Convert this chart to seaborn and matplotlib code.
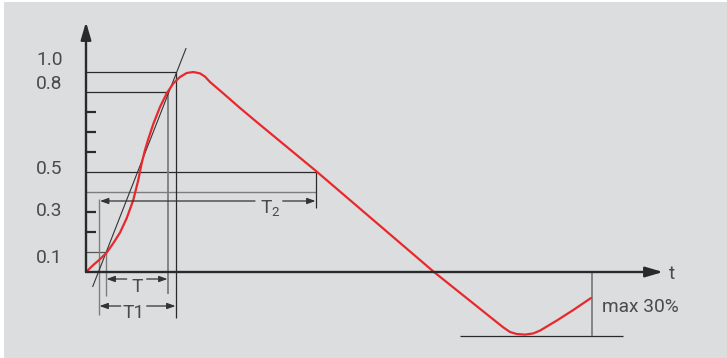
import numpy as np
import matplotlib
matplotlib.use("Agg")
import matplotlib.pyplot as plt
from matplotlib.patches import Rectangle
import seaborn as sns

# Impulse waveform (t in arbitrary units, v relative to peak)
t_wave = [0, 0.73, 1.4, 2.07, 2.73, 3.4, 4.07, 4.73, 5.23, 5.57, 5.9, 6.23, 6.73,
          7.4, 8.07, 8.73, 9.4, 10.07, 10.73, 11.4, 11.9, 12.4, 13.73, 15.4, 17.07,
          23.0, 34.8, 40.4, 41.73, 42.4, 43.07, 43.9, 44.73, 45.4, 47.07, 48.73, 50.5]
v_wave = [0, 0.035, 0.064, 0.097, 0.144, 0.197, 0.269, 0.36, 0.46, 0.544, 0.61, 0.665, 0.74,
          0.825, 0.893, 0.943, 0.975, 0.995, 1.0, 0.993, 0.977, 0.95, 0.893, 0.82, 0.75,
          0.505, 0.0, -0.224, -0.277, -0.30, -0.31, -0.313, -0.307, -0.293, -0.243, -0.19, -0.13]

# tangent through the 10% and 90% points
t_tangent = [0.67, 10.0]
v_tangent = [-0.073, 1.118]

# reference levels and times
v_peak, v_90, v_50, v_40, v_10 = 1.0, 0.9, 0.5, 0.4, 0.1
t_origin, t_10, t_90, t_1, t_2, t_end = 1.3, 2.0, 8.2, 9.0, 23.0, 50.6
v_under = -0.318
t_under = [37.4, 53.7]

# y labels as drawn (slightly off the lines in the original)
ylabel_pos = [1.068, 0.95, 0.527, 0.313, 0.08]
ylabel_txt = ['1.0', '0.8', '0.5', '0.3', '0.1']
minor_ticks = [0.2, 0.3, 0.6, 0.7, 0.8]

RED = '#e8282c'
DARK = '#2a2a2a'
GRAY = '#7d7d7d'
TXT = '#4a4a4a'
BG = '#dcddde'

sns.set_theme(style='white')
plt.rcParams['font.family'] = ['Roboto', 'Liberation Sans', 'DejaVu Sans']
plt.rcParams['mathtext.default'] = 'regular'

fig = plt.figure(figsize=(7.27, 3.58), dpi=100, facecolor='white')
fig.patches.append(Rectangle((4 / 727, 0), 1, 1 - 2 / 358, transform=fig.transFigure,
                             facecolor=BG, edgecolor='none', zorder=-10))
ax = fig.add_axes([0, 0, 1, 1])
ax.set_facecolor('none')
ax.set_xlim(-8.6, 64.1)
ax.set_ylim(-0.43, 1.36)

for s in ax.spines.values():
    s.set_visible(False)
ax.spines['left'].set_position(('data', 0))
ax.set_xticks([])
ax.set_yticks(ylabel_pos, ylabel_txt)
ax.set_yticks(minor_ticks, minor=True)
ax.tick_params(axis='y', which='major', left=True, length=0, pad=17, labelsize=13.8, labelcolor=TXT)
ax.tick_params(axis='y', which='minor', left=True, direction='in', length=7.2, width=1.6, color=DARK)
ax.grid(False)

# axes with arrowheads
arrow_ax = dict(arrowstyle='-|>,head_length=0.75,head_width=0.22', lw=1.7, color=DARK,
                shrinkA=0, shrinkB=0, mutation_scale=14)
ax.annotate('', xy=(0, 1.25), xytext=(0, 0), arrowprops=arrow_ax)
ax.annotate('', xy=(57.7, 0), xytext=(0, 0), arrowprops=arrow_ax)
ax.text(58.6, -0.012, 't', fontsize=13.8, color=TXT, ha='center', va='center')

# construction lines
ax.hlines(v_peak, 0, t_1, color=DARK, lw=0.9)
ax.hlines(v_90, 0, t_90, color=DARK, lw=0.9)
ax.hlines(v_50, 0, t_2, color=DARK, lw=0.9)
ax.hlines(v_40, 0, t_2, color=GRAY, lw=1.0)
ax.hlines(v_10, 0, t_10, color='#555555', lw=0.9)
ax.hlines(v_under, t_under[0], t_under[1], color=DARK, lw=0.9)

ax.vlines(t_origin, -0.215, 0.365, color=GRAY, lw=1.0)
ax.vlines(t_10, -0.12, v_10, color=GRAY, lw=1.0)
ax.vlines(t_90, -0.11, v_90, color=GRAY, lw=1.3)
ax.vlines(t_1, -0.23, v_peak, color=DARK, lw=0.9)
ax.vlines(t_2, 0.32, v_50, color=DARK, lw=0.9)
ax.vlines(t_end, v_under, 0, color=GRAY, lw=1.3)

ax.plot(t_tangent, v_tangent, color='#333333', lw=0.8)

# waveform
sns.lineplot(x=t_wave, y=v_wave, ax=ax, color=RED, lw=1.6, sort=False, estimator=None)

# dimension arrows (split around their labels)
arr = dict(arrowstyle='-|>,head_length=0.5,head_width=0.18', lw=0.9, color='#333333',
           shrinkA=0, shrinkB=0, mutation_scale=10)

def dim(v, a, b, gap_l, gap_r):
    ax.annotate('', xy=(a, v), xytext=(gap_l, v), arrowprops=arr)
    ax.annotate('', xy=(b, v), xytext=(gap_r, v), arrowprops=arr)

dim(-0.035, t_10 + 0.05, t_90 - 0.05, 4.07, 6.07)
ax.text(5.07, -0.074, 'T', fontsize=13.8, color=TXT, ha='center', va='center')
dim(-0.17, t_origin + 0.05, t_1 - 0.05, 3.47, 6.07)
ax.text(4.77, -0.203, 'T1', fontsize=13.8, color=TXT, ha='center', va='center')
dim(0.355, t_origin + 0.1, t_2 - 0.05, 16.9, 19.67)
ax.text(17.4, 0.295, 'T$_2$', fontsize=13.8, color=TXT, ha='left', va='baseline')

ax.text(51.6, -0.175, 'max 30%', fontsize=13.8, color=TXT, ha='left', va='center')

fig.savefig('out.png', dpi=100, facecolor=fig.get_facecolor())
